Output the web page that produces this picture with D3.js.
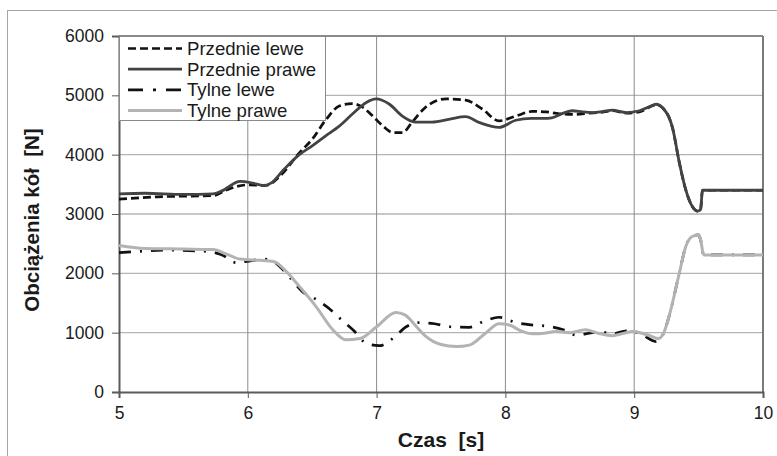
<!DOCTYPE html>
<html>
<head>
<meta charset="utf-8">
<script src="https://cdn.jsdelivr.net/npm/d3@7/dist/d3.min.js"></script>
<style>
  html, body { margin: 0; padding: 0; background: #fff; }
  svg { display: block; font-family: "Liberation Sans", Arial, sans-serif; }
</style>
</head>
<body>
<svg id="chart" width="777" height="456"></svg>
<script>
// Wheel loads [N] over time [s]
const seriesNames = ["Przednie lewe", "Przednie prawe", "Tylne lewe", "Tylne prawe"];

const timePL = [5.0, 5.3, 5.73, 5.84, 5.99, 6.14, 6.25, 6.4, 6.5, 6.61, 6.71, 6.81, 6.89, 6.97, 7.05, 7.13, 7.2, 7.28, 7.38, 7.54, 7.69, 7.82, 7.95, 8.08, 8.21, 8.32, 8.42, 8.55, 8.65, 8.73, 8.83, 8.94, 9.04, 9.17, 9.22, 9.3, 9.35, 9.4, 9.45, 9.49, 9.515, 9.53, 10.0];
const loadPL = [3250, 3290, 3310, 3410, 3490, 3480, 3640, 4030, 4260, 4600, 4820, 4860, 4800, 4650, 4480, 4370, 4370, 4560, 4800, 4940, 4920, 4770, 4570, 4650, 4730, 4720, 4690, 4680, 4700, 4710, 4740, 4700, 4720, 4840, 4790, 4430, 3870, 3410, 3130, 3050, 3070, 3400, 3400];

const timePP = [5.0, 5.2, 5.5, 5.73, 5.8, 5.94, 6.04, 6.12, 6.18, 6.28, 6.4, 6.5, 6.6, 6.71, 6.81, 6.92, 6.995, 7.1, 7.2, 7.3, 7.43, 7.57, 7.69, 7.8, 7.95, 8.08, 8.2, 8.3, 8.36, 8.45, 8.52, 8.6, 8.68, 8.76, 8.83, 8.94, 9.04, 9.12, 9.17, 9.22, 9.3, 9.35, 9.4, 9.45, 9.49, 9.515, 9.53, 10.0];
const loadPP = [3340, 3350, 3330, 3340, 3390, 3550, 3520, 3480, 3520, 3750, 4000, 4150, 4310, 4480, 4680, 4880, 4940, 4850, 4650, 4550, 4550, 4600, 4640, 4540, 4460, 4580, 4610, 4610, 4620, 4700, 4740, 4720, 4710, 4730, 4750, 4710, 4740, 4810, 4850, 4790, 4430, 3870, 3410, 3130, 3050, 3070, 3400, 3400];

const timeTL = [5.0, 5.15, 5.35, 5.68, 5.8, 5.91, 5.99, 6.12, 6.2, 6.26, 6.33, 6.42, 6.53, 6.64, 6.71, 6.82, 6.92, 7.02, 7.13, 7.23, 7.33, 7.45, 7.57, 7.72, 7.83, 7.95, 8.08, 8.2, 8.32, 8.45, 8.55, 8.65, 8.73, 8.83, 8.94, 9.04, 9.17, 9.23, 9.27, 9.35, 9.4, 9.45, 9.5, 9.515, 9.54, 10.0];
const loadTL = [2350, 2370, 2390, 2370, 2310, 2180, 2200, 2240, 2200, 2090, 1920, 1700, 1560, 1390, 1250, 1040, 820, 780, 910, 1100, 1170, 1150, 1100, 1090, 1190, 1260, 1170, 1130, 1110, 1050, 960, 990, 1020, 980, 1030, 990, 850, 1000, 1270, 2000, 2450, 2620, 2650, 2570, 2310, 2310];

const timeTP = [5.0, 5.2, 5.5, 5.73, 5.84, 5.94, 6.09, 6.2, 6.3, 6.4, 6.53, 6.66, 6.76, 6.87, 7.0, 7.15, 7.22, 7.31, 7.38, 7.5, 7.62, 7.72, 7.85, 7.95, 8.03, 8.12, 8.21, 8.3, 8.39, 8.5, 8.62, 8.72, 8.83, 8.92, 8.99, 9.06, 9.12, 9.19, 9.23, 9.27, 9.35, 9.4, 9.45, 9.5, 9.515, 9.54, 10.0];
const loadTP = [2470, 2420, 2410, 2400, 2320, 2240, 2220, 2200, 2030, 1780, 1440, 1050, 880, 900, 1100, 1340, 1300, 1100, 940, 800, 765, 790, 1000, 1150, 1130, 1030, 980, 990, 1020, 1000, 1050, 990, 950, 990, 1020, 990, 950, 900, 1000, 1270, 2000, 2450, 2620, 2650, 2570, 2310, 2310];

const xTicks = [5, 6, 7, 8, 9, 10];
const yTicks = [0, 1000, 2000, 3000, 4000, 5000, 6000];

const svg = d3.select("#chart");
const plot = { left: 119, right: 763, top: 36, bottom: 392 };

const x = d3.scaleLinear().domain([5, 10]).range([plot.left, plot.right]);
const y = d3.scaleLinear().domain([0, 6000]).range([plot.bottom, plot.top]);

// outer chart frame (only its left and top edges fall inside the page)
svg.append("rect")
  .attr("x", 7.5).attr("y", 10.5).attr("width", 900).attr("height", 600)
  .attr("fill", "none").attr("stroke", "#a6a6a6").attr("stroke-width", 1);

// gridlines
svg.append("g").selectAll("line").data(yTicks.filter(v => v > 0 && v < 6000)).join("line")
  .attr("x1", plot.left).attr("x2", plot.right)
  .attr("y1", d => y(d)).attr("y2", d => y(d))
  .attr("stroke", "#b4b4b4").attr("stroke-width", 1.3);
svg.append("g").selectAll("line").data(xTicks.filter(v => v > 5 && v < 10)).join("line")
  .attr("x1", d => x(d)).attr("x2", d => x(d))
  .attr("y1", plot.top).attr("y2", plot.bottom)
  .attr("stroke", "#8c8c8c").attr("stroke-width", 1);

// plot frame top and right
svg.append("line").attr("x1", plot.left).attr("x2", plot.right)
  .attr("y1", plot.top).attr("y2", plot.top)
  .attr("stroke", "#8a8a8a").attr("stroke-width", 2);
svg.append("line").attr("x1", plot.right).attr("x2", plot.right)
  .attr("y1", plot.top).attr("y2", plot.bottom)
  .attr("stroke", "#7a7a7a").attr("stroke-width", 2);

// axes
const xAxis = d3.axisBottom(x).tickValues(xTicks).tickSize(6).tickPadding(9).tickFormat(d3.format("d"));
const yAxis = d3.axisLeft(y).tickValues(yTicks).tickSize(7).tickPadding(8).tickFormat(d3.format("d"));

const gx = svg.append("g").attr("transform", `translate(0,${plot.bottom})`).call(xAxis);
const gy = svg.append("g").attr("transform", `translate(${plot.left},0)`).call(yAxis);
[gx, gy].forEach(g => {
  g.select(".domain").attr("stroke", "#5a5a5a").attr("stroke-width", 2);
  g.selectAll(".tick line").attr("stroke", "#5a5a5a").attr("stroke-width", 1);
  g.selectAll(".tick text").attr("fill", "#1a1a1a")
    .style("font-family", "'Liberation Sans', Arial, sans-serif").style("font-size", "17.5px");
});

// series
const line = d3.line().x(d => x(d[0])).y(d => y(d[1])).curve(d3.curveMonotoneX);
const series = [
  { name: seriesNames[0], t: timePL, v: loadPL, color: "#111111", width: 2.7, dash: "8,4" },
  { name: seriesNames[1], t: timePP, v: loadPP, color: "#434343", width: 2.8, dash: null },
  { name: seriesNames[2], t: timeTL, v: loadTL, color: "#111111", width: 2.7, dash: "12,9,2,9" },
  { name: seriesNames[3], t: timeTP, v: loadTP, color: "#b3b3b3", width: 3, dash: null }
];

const gLines = svg.append("g");
series.forEach(s => {
  gLines.append("path")
    .datum(d3.zip(s.t, s.v))
    .attr("d", line)
    .attr("fill", "none")
    .attr("stroke", s.color)
    .attr("stroke-width", s.width)
    .attr("stroke-dasharray", s.dash)
    .attr("stroke-linejoin", "round");
});

// legend
const legend = svg.append("g");
legend.append("rect")
  .attr("x", plot.left + 0.5).attr("y", plot.top + 0.5)
  .attr("width", 206).attr("height", 84)
  .attr("fill", "#fff").attr("stroke", "#8a8a8a").attr("stroke-width", 1);
series.forEach((s, i) => {
  const cy = 48.5 + i * 20.7;
  legend.append("line")
    .attr("x1", 128).attr("x2", 182).attr("y1", cy).attr("y2", cy)
    .attr("stroke", s.color).attr("stroke-width", s.width)
    .attr("stroke-dasharray", i === 2 ? "15,10,3,10" : s.dash);
  legend.append("text")
    .attr("x", 187).attr("y", cy).attr("dy", "0.35em")
    .attr("fill", "#1a1a1a").style("font-size", "18.6px")
    .text(s.name);
});

// axis titles
svg.append("text")
  .attr("x", (plot.left + plot.right) / 2).attr("y", 447)
  .attr("text-anchor", "middle")
  .style("font-size", "21px").style("font-weight", "bold").attr("fill", "#1a1a1a")
  .attr("xml:space", "preserve")
  .text("Czas  [s]");
svg.append("text")
  .attr("transform", `translate(39,${(plot.top + plot.bottom) / 2 + 6}) rotate(-90)`)
  .attr("text-anchor", "middle")
  .style("font-size", "20.5px").style("font-weight", "bold").attr("fill", "#1a1a1a")
  .attr("xml:space", "preserve")
  .text("Obciążenia kół  [N]");
</script>
</body>
</html>
